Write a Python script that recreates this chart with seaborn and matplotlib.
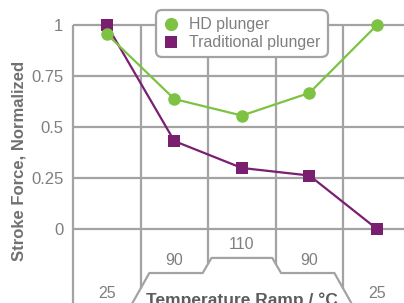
import matplotlib
matplotlib.use('Agg')
import matplotlib.pyplot as plt
import seaborn as sns
import pandas as pd
import numpy as np
from matplotlib.lines import Line2D

# ---- data ----
temps = ['25', '90', '110', '90', '25']
hd = [0.956, 0.637, 0.556, 0.667, 1.0]
trad = [1.0, 0.431, 0.299, 0.262, 0.0]
series = ['HD plunger', 'Traditional plunger']
yticks = [0, 0.25, 0.5, 0.75, 1]
ytick_labels = ['0', '0.25', '0.5', '0.75', '1']

# temperature ramp outline (decoration), x relative to middle step
ramp_x = [-1.62, -1.37, -0.58, -0.45, 0.45, 0.58, 1.37, 1.62]
ramp_y = [-0.363, -0.216, -0.216, -0.142, -0.142, -0.216, -0.216, -0.363]
temp_label_y = [-0.314, -0.157, -0.078, -0.157, -0.314]

sns.set_theme(style='white')
plt.rcParams['font.family'] = ['Liberation Sans', 'DejaVu Sans']

GREEN = '#7DC242'
PURPLE = '#7A1F6F'
GRID = '#A3A3A3'
TXT = '#7F7F7F'

fig = plt.figure(figsize=(4.04, 3.03), dpi=100)
ax = fig.add_axes([73 / 404, 0, 1 - 73 / 404, 1 - 25 / 303])
xmin, xmax = -0.5, 4.4
ymin, ymax = -0.363, 1.0
ax.set_xlim(xmin, xmax)
ax.set_ylim(ymin, ymax)
for s in ax.spines.values():
    s.set_visible(False)

pos = np.arange(len(temps))
center = pos[len(pos) // 2]
rx = np.array(ramp_x) + center

# grid
ax.hlines(yticks, xmin, xmax, color=GRID, lw=1.6, zorder=1, clip_on=False)
ax.vlines([xmin], ymin, 1, color=GRID, lw=1.6, zorder=1, clip_on=False)
bounds = pos[:-1] + 0.5
ax.vlines(bounds, np.interp(bounds, rx, ramp_y), 1, color=GRID, lw=1.6, zorder=1, clip_on=False)
ax.plot(rx, ramp_y, color=GRID, lw=1.6, zorder=1, clip_on=False)

# data
df = pd.DataFrame({
    'step': list(pos) * 2,
    'force': hd + trad,
    'plunger': [series[0]] * len(hd) + [series[1]] * len(trad),
})
sns.lineplot(data=df, x='step', y='force', hue='plunger', style='plunger',
             hue_order=[series[1], series[0]], style_order=[series[1], series[0]],
             palette={series[0]: GREEN, series[1]: PURPLE},
             markers={series[0]: 'o', series[1]: 's'}, dashes=False,
             markersize=9, markeredgewidth=0, lw=1.6, legend=False, ax=ax)
for l in ax.lines[-2:]:
    l.set_clip_on(False)
    l.set_zorder(3)

ax.set_xlabel('')
ax.set_ylabel('')
ax.set_xticks([])
ax.set_yticks(yticks, ytick_labels)
ax.tick_params(axis='y', length=0, pad=7, labelsize=12, labelcolor=TXT)

for i, t in enumerate(temps):
    ax.text(pos[i], temp_label_y[i], t, ha='center', va='center', color=TXT, fontsize=11.5)
ax.text(center, -0.313, 'Temperature Ramp / °C', ha='center', va='top',
        fontweight='bold', color='#5C5C5C', fontsize=12.5, clip_on=False)

fig.text(19 / 404, 0.47, 'Stroke Force, Normalized', rotation=90, fontweight='bold',
         color='#707070', ha='center', va='center', fontsize=12)

handles = [Line2D([], [], marker='o', color=GREEN, ls='none', markersize=9.5, markeredgewidth=0),
           Line2D([], [], marker='s', color=PURPLE, ls='none', markersize=8.5, markeredgewidth=0)]
leg = fig.legend(handles, series, loc='upper left', bbox_to_anchor=(156 / 404, 1 - 10 / 303),
                 frameon=True, fancybox=True, edgecolor=GRID, facecolor='white', framealpha=1,
                 fontsize=11.4, labelcolor=TXT, handlelength=1.0, handletextpad=0.65,
                 borderpad=0.45, labelspacing=0.2, borderaxespad=0)
leg.get_frame().set_linewidth(1.6)
leg.get_frame().set_boxstyle('round,pad=0,rounding_size=0.4')

fig.savefig('out.png', dpi=100)
